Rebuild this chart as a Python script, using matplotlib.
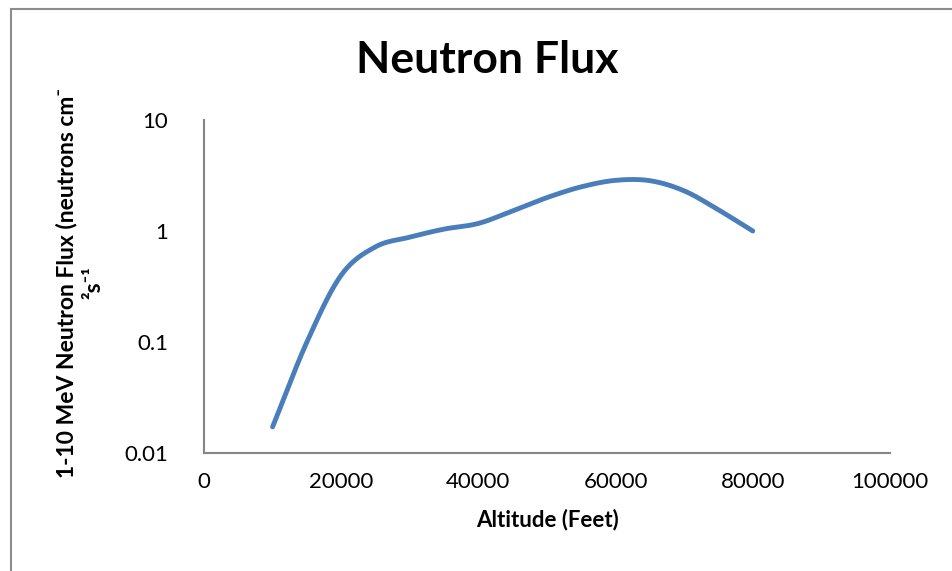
import numpy as np
import matplotlib.pyplot as plt
from matplotlib.lines import Line2D

plt.rcParams['font.family'] = ['Lato', 'DejaVu Sans']

altitude = [10000, 15000, 20000, 25000, 30000, 35000, 40000, 45000,
            50000, 55000, 60000, 65000, 70000, 75000, 80000]
flux = [0.0172, 0.1, 0.40, 0.72, 0.88, 1.04, 1.17, 1.52,
        2.0, 2.5, 2.86, 2.84, 2.3, 1.55, 1.0]


def smooth(x, y, n=20):
    # Catmull-Rom curve through the points (like Excel's smoothed line), in log space
    x = np.asarray(x, float)
    y = np.log10(y)
    px = np.concatenate([[2 * x[0] - x[1]], x, [2 * x[-1] - x[-2]]])
    py = np.concatenate([[2 * y[0] - y[1]], y, [2 * y[-1] - y[-2]]])
    t = np.linspace(0, 1, n, endpoint=False)
    xs, ys = [], []
    for i in range(1, len(px) - 2):
        for p, out in ((px, xs), (py, ys)):
            p0, p1, p2, p3 = p[i - 1], p[i], p[i + 1], p[i + 2]
            out.extend(0.5 * (2 * p1 + (-p0 + p2) * t
                              + (2 * p0 - 5 * p1 + 4 * p2 - p3) * t ** 2
                              + (-p0 + 3 * p1 - 3 * p2 + p3) * t ** 3))
    xs.append(x[-1])
    ys.append(y[-1])
    return np.array(xs), 10 ** np.array(ys)


fig = plt.figure(figsize=(9.52, 5.71), dpi=100)
ax = fig.add_axes([204 / 952, 1 - 453 / 571, 686 / 952, 333 / 571])

sx, sy = smooth(altitude, flux)
ax.plot(sx, sy, color='#4a7ebb', lw=3.5, solid_capstyle='round')

ax.set_yscale('log')
ax.set_ylim(0.01, 10)
ax.set_xlim(0, 100000)
ax.set_xticks([0, 20000, 40000, 60000, 80000, 100000])
ax.set_xticklabels(['0', '20000', '40000', '60000', '80000', '100000'])
ax.set_yticks([0.01, 0.1, 1, 10])
ax.set_yticklabels(['0.01', '0.1', '1', '10'])
ax.minorticks_off()
ax.tick_params(axis='both', length=0, labelsize=16)
ax.tick_params(axis='y', pad=26)
ax.tick_params(axis='x', pad=14)

for s in ['top', 'right']:
    ax.spines[s].set_visible(False)
for s in ['left', 'bottom']:
    ax.spines[s].set_color('#868686')
    ax.spines[s].set_linewidth(1.5)

ax.set_xlabel('Altitude (Feet)', fontsize=16, fontweight='bold', labelpad=12)
fig.text(80 / 952, 1 - 283 / 571,
         '1-10 MeV Neutron Flux (neutrons cm\u207b\n\u00b2s\u207b\u00b9',
         rotation=90, ha='center', va='center', fontsize=16.5,
         fontweight='bold', linespacing=1.3)
fig.text(487 / 952, 1 - 60 / 571, 'Neutron Flux', ha='center', va='center',
         fontsize=32, fontweight='bold')

# chart border
fig.add_artist(Line2D([11 / 952, 1], [1 - 8.5 / 571] * 2, color='#8c8c8c', lw=1.5))
fig.add_artist(Line2D([11 / 952] * 2, [0, 1 - 8.5 / 571], color='#8c8c8c', lw=1.5))

fig.savefig('out.png', dpi=100)
